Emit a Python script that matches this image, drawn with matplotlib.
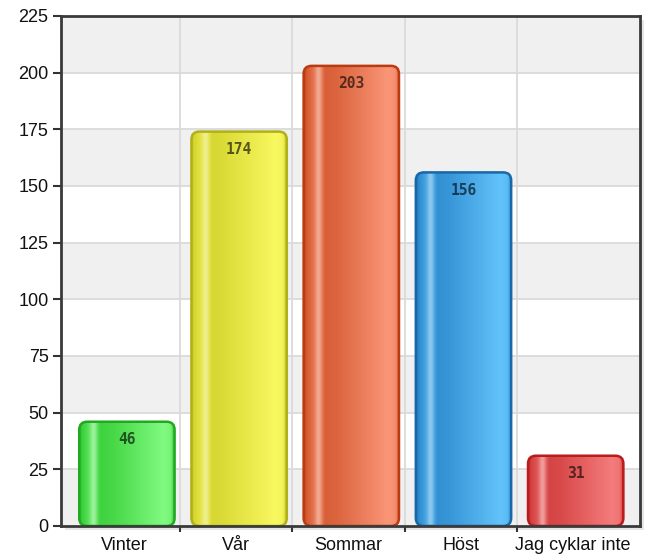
import numpy as np
import matplotlib
matplotlib.use("Agg")
import matplotlib.pyplot as plt
from matplotlib.patches import FancyBboxPatch, Rectangle
from matplotlib.colors import to_rgb

plt.rcParams['font.family'] = ['Liberation Sans', 'DejaVu Sans']

categories = ["Vinter", "Vår", "Sommar", "Höst", "Jag cyklar inte"]
values = [46, 174, 203, 156, 31]
y_ticks = [0, 25, 50, 75, 100, 125, 150, 175, 200, 225]

# (edge, dark, light, highlight)
palettes = [
    ("#22a822", "#33cc33", "#80fa80", "#c8f5c8"),
    ("#b0b018", "#d2d22c", "#f8f860", "#f0f0c0"),
    ("#bb3a10", "#d2552c", "#fa9678", "#f5c8b8"),
    ("#1868a8", "#2a88cc", "#62c2fa", "#b8dcf0"),
    ("#b81c1c", "#d03a3a", "#f47c7c", "#f5c8c8"),
]

W, H, DPI = 652, 557, 100
fig = plt.figure(figsize=(W / DPI, H / DPI), dpi=DPI)
fig.patch.set_facecolor("white")
L, R, T, B = 61, 640, 16, 526
ax = fig.add_axes([L / W, (H - B) / H, (R - L) / W, (B - T) / H])

xlim = (-0.5 - 7 / 112, 4.5 + 11 / 112)
ylim = (0, 225)
ax.set_xlim(*xlim)
ax.set_ylim(*ylim)

# shadow of the frame
fig.patches.append(Rectangle(((L + 4) / W, (H - B - 4) / H), (R - L) / W, (B - T) / H,
                             transform=fig.transFigure, facecolor="#e6e6e6",
                             edgecolor="none", zorder=-5))
ax.set_facecolor("white")

# alternating bands
for i in range(len(y_ticks) - 1):
    if i % 2 == 0:
        ax.axhspan(y_ticks[i], y_ticks[i + 1], facecolor="#f0f0f0", edgecolor="none", zorder=0)
for yv in y_ticks[1:-1]:
    ax.axhline(yv, color="#dadada", lw=1.3, zorder=0.5)
n = len(categories)
for k in range(n - 1):
    ax.axvline(k + 0.5, color="#dadada", lw=1.3, zorder=0.5)

# bars
bw = 0.85
shift = 0.025
px_x = (R - L) / (xlim[1] - xlim[0])
px_y = (B - T) / (ylim[1] - ylim[0])
aspect = px_x / px_y
rs = 8 / px_x
prof_t = [0.0, 0.04, 0.10, 0.15, 0.22, 0.35, 0.88, 0.95, 1.0]
prof_v = [0.0, 0.15, 0.45, 0.75, 0.15, 0.25, 1.0, 0.9, 0.3]
tt = np.linspace(0, 1, 200)
for i, (v, pal) in enumerate(zip(values, palettes)):
    edge, dark, light, hi = [np.array(to_rgb(c)) for c in pal]
    w = np.interp(tt, prof_t, prof_v)
    cols = dark[None, :] * (1 - w[:, None]) + light[None, :] * w[:, None]
    hs = np.exp(-((tt - 0.15) / 0.035) ** 2) * 0.55
    cols = cols * (1 - hs[:, None]) + hi[None, :] * hs[:, None]
    ed = np.clip(1 - np.minimum(tt, 1 - tt) / 0.03, 0, 1) * 0.6
    cols = cols * (1 - ed[:, None]) + edge[None, :] * ed[:, None]
    img = np.clip(cols, 0, 1)[None, :, :]
    xc = i + shift
    x0 = xc - bw / 2
    patch = FancyBboxPatch((x0, 0), bw, v,
                           boxstyle=f"round,pad=0,rounding_size={rs}",
                           mutation_aspect=aspect,
                           facecolor="none", edgecolor=pal[0], lw=1.8, zorder=3)
    ax.add_patch(patch)
    im = ax.imshow(img, extent=(x0, x0 + bw, 0, v), aspect="auto", zorder=2,
                   interpolation="bilinear")
    im.set_clip_path(patch)
    ax.text(xc, v - 18 / px_y, str(v), ha="center", va="center", fontsize=10.5,
            fontweight="bold", family="DejaVu Sans Mono", color="black",
            alpha=0.62, zorder=4)

ax.set_aspect("auto")
ax.set_xlim(*xlim)
ax.set_ylim(*ylim)

ax.set_yticks(y_ticks)
ax.set_yticklabels([str(t) for t in y_ticks], fontsize=13, color="#111111")
ax.set_xticks(range(n))
ax.set_xticklabels(categories, fontsize=13, color="#111111")
ax.tick_params(axis="x", length=0, pad=8)
ax.set_xticks([k + 0.5 for k in range(n - 1)], minor=True)
ax.tick_params(axis="x", which="minor", length=4, width=1.5, color="#333333")
ax.tick_params(axis="y", length=6, width=1.5, color="#333333", pad=3)
for s in ax.spines.values():
    s.set_color("#3a3a3a")
    s.set_linewidth(2)
    s.set_zorder(5)

fig.savefig("out.png", dpi=DPI)
